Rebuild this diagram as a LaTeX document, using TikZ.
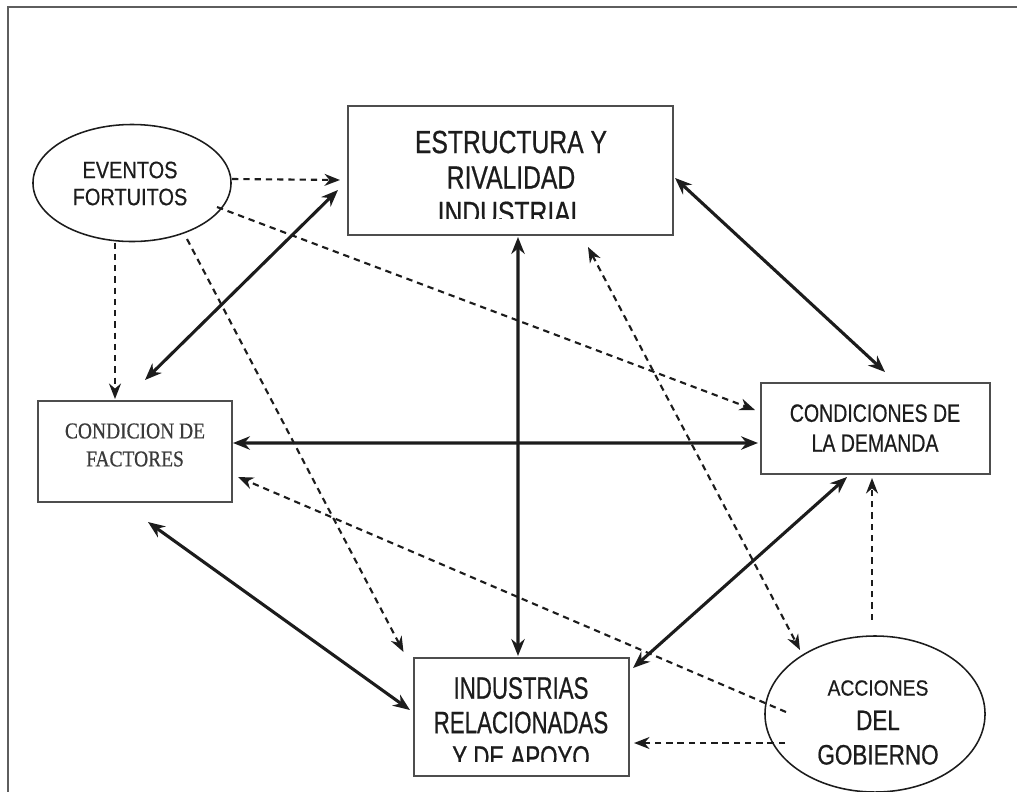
\documentclass[tikz,border=0pt]{standalone}
\usepackage{fontspec}
\setmainfont{Liberation Sans}
\newfontfamily\estfont[FakeStretch=0.77,FakeBold=0.6]{Liberation Sans}
\newfontfamily\evefont[FakeStretch=0.84,FakeBold=0.5]{Liberation Sans}
\newfontfamily\facfont[FakeStretch=0.86,FakeBold=0.6]{Liberation Serif}
\newfontfamily\demfont[FakeStretch=0.78,FakeBold=0.5]{Liberation Sans}
\newfontfamily\indfont[FakeStretch=0.72,FakeBold=0.6]{Liberation Sans}
\newfontfamily\accfont[FakeStretch=0.88,FakeBold=0.5]{Liberation Sans}
\newfontfamily\govfont[FakeStretch=0.80,FakeBold=0.6]{Liberation Sans}
\usetikzlibrary{arrows.meta,shapes.geometric,calc}

\definecolor{framegray}{HTML}{5E5E5E}
\definecolor{boxgray}{HTML}{4D4D4D}
\definecolor{inkdark}{HTML}{1C1C1C}
\definecolor{serifgray}{HTML}{3A3A3A}

\tikzset{
  box/.style={draw=boxgray, line width=1.5pt, rectangle, inner sep=0pt, outer sep=0pt},
  oval/.style={draw=inkdark, line width=1.1pt, ellipse, inner sep=0pt, outer sep=0pt},
  caption/.style={inner sep=0pt, align=center, text=inkdark},
  solidlink/.style={draw=inkdark, line width=2.2pt,
    {Stealth[length=12pt,width=9.5pt]}-{Stealth[length=12pt,width=9.5pt]}},
  dashlink/.style={draw=inkdark, line width=1.5pt, dash pattern=on 4.5pt off 3.5pt,
    -{Stealth[length=11pt,width=8.5pt]}},
  dashboth/.style={dashlink, {Stealth[length=11pt,width=8.5pt]}-{Stealth[length=11pt,width=8.5pt]}}
}

\begin{document}
\begin{tikzpicture}[x=0.025cm, y=-0.025cm]
  % page and outer frame
  \clip (0,0) rectangle (1017,791);
  \fill[white] (0,0) rectangle (1017,791);
  \draw[framegray, line width=1.6pt] (8,800) -- (8,7) -- (1030,7);

  % the five blocks of the model
  \node[box, minimum width=8.125cm, minimum height=3.225cm] (est) at (510.5,170.5) {};
  \node[box, minimum width=4.85cm, minimum height=2.525cm] (fac) at (135,451.5) {};
  \node[box, minimum width=5.725cm, minimum height=2.275cm] (dem) at (875.5,428.5) {};
  \node[box, minimum width=5.375cm, minimum height=2.95cm] (ind) at (521.5,717) {};
  \node[oval, minimum width=4.95cm, minimum height=2.925cm] (eve) at (132,183) {};
  \node[oval, minimum width=5.5cm, minimum height=3.9cm] (acc) at (875,714) {};

  % labels (the two long ones are cut by their box)
  \begin{scope}
    \clip (348,106) rectangle (673,218.5);
    \node[caption, font=\estfont\fontsize{22.8}{25.2}\selectfont] (estlabel) at (511,177.5)
      {ESTRUCTURA Y\\RIVALIDAD\\INDUSTRIAL};
  \end{scope}
  \begin{scope}
    \clip (414,658) rectangle (629,761);
    \node[caption, font=\indfont\fontsize{22}{24.5}\selectfont] (indlabel) at (521,722.5)
      {INDUSTRIAS\\RELACIONADAS\\Y DE APOYO};
  \end{scope}
  \node[caption, font=\evefont\fontsize{16.9}{19.2}\selectfont] (evelabel) at (130,183.5)
    {EVENTOS\\FORTUITOS};
  \node[caption, text=serifgray, font=\facfont\fontsize{16.1}{19.9}\selectfont] (faclabel) at (135,445)
    {CONDICION DE\\FACTORES};
  \node[caption, font=\demfont\fontsize{17.8}{21.3}\selectfont] (demlabel) at (875,428)
    {CONDICIONES DE\\LA DEMANDA};
  \node[caption, font=\govfont\fontsize{20}{24.5}\selectfont] (acclabel) at (878,722.5)
    {{\accfont\fontsize{15.6}{24.5}\selectfont ACCIONES}\\DEL\\GOBIERNO};

  % mutual influences between the four determinants
  \draw[solidlink] ($(fac.north)+(10,-21)$) -- ($(est.west)+(-10,19.5)$);
  \draw[solidlink] ($(est.east)+(2,7.5)$) -- ($(dem.north)+(9.5,-11)$);
  \draw[solidlink] ($(fac.east)+(1,-8.5)$) -- ($(dem.west)+(-3,14.5)$);
  \draw[solidlink] ($(est.south)+(7.5,2)$) -- ($(ind.north)+(-3.5,-2)$);
  \draw[solidlink] ($(fac.south)+(13,20)$) -- ($(ind.west)+(-4,-7)$);
  \draw[solidlink] ($(dem.south)+(-28.5,3)$) -- ($(ind.north east)+(4,10)$);

  % chance events
  \draw[dashlink] ($(eve.east)+(1,-4)$) -- ($(est.west)+(-8,9.5)$);
  \draw[dashlink] ($(eve.south)+(-17,1)$) -- ($(fac.north)+(-20,-2)$);
  \draw[dashlink] ($(eve.center)+(85,24)$) -- ($(dem.west)+(-6,-18.5)$);
  \draw[dashlink] ($(eve.center)+(55,56)$) -- ($(ind.north)+(-118,-6)$);

  % government actions
  \draw[dashboth] ($(est.south)+(77.5,12)$) -- ($(acc.center)+(-75,-64)$);
  \draw[dashlink] ($(acc.center)+(-89,-2)$) -- ($(fac.east)+(6,25.5)$);
  \draw[dashlink] ($(acc.center)+(-90,29)$) -- ($(ind.east)+(5,26)$);
  \draw[dashlink] ($(acc.north)+(-3,-16)$) -- ($(dem.south)+(-3.5,4)$);
\end{tikzpicture}
\end{document}
